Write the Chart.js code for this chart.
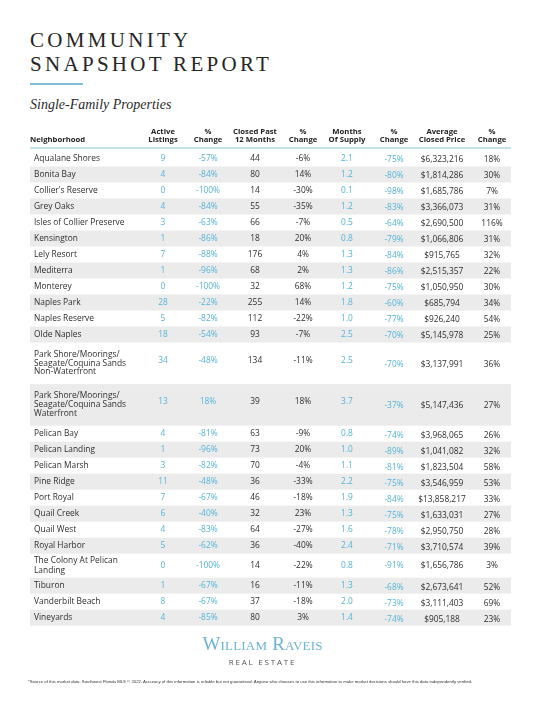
<!DOCTYPE html>
<html>
<head>
<meta charset="utf-8">
<script src="https://cdn.jsdelivr.net/npm/chart.js@4.4.1/dist/chart.umd.min.js"></script>
<style>
body{margin:0;background:#fff}
#page{position:relative;width:539px;height:702px;overflow:hidden;background:#fff}
#tabel{position:absolute;left:0;top:0}
.judul{position:absolute;left:30px;top:28px;font-family:"Liberation Serif",serif;font-size:21px;line-height:24px;letter-spacing:3.3px;color:#262626}
.garis{position:absolute;left:30px;top:83px;width:53px;height:1.5px;background:#7fbfd8}
.sub{position:absolute;left:30px;top:97px;font-family:"Liberation Serif",serif;font-style:italic;font-size:14px;line-height:16px;color:#2a2a2a}
.logo{position:absolute;left:0;width:525px;top:634px;text-align:center;font-family:"Liberation Serif",serif;font-variant:small-caps;font-size:19px;line-height:20px;letter-spacing:0.2px;color:#6db3d3}
.re{position:absolute;left:0;width:525px;top:657px;text-align:center;font-family:"Open Sans",sans-serif;font-size:8px;line-height:10px;letter-spacing:1.8px;color:#555}
.note{position:absolute;left:28px;top:679px;white-space:nowrap;font-family:"Liberation Sans",sans-serif;font-size:4.28px;line-height:6px;color:#333}
</style>
</head>
<body>
<div id="page">
<div class="judul">COMMUNITY<br>SNAPSHOT REPORT</div>
<div class="garis"></div>
<div class="sub">Single-Family Properties</div>
<canvas id="tabel" width="539" height="702"></canvas>
<div class="logo">William Raveis</div>
<div class="re">REAL ESTATE</div>
<div class="note">*Source of this market data: Southwest Florida MLS © 2022. Accuracy of this information is reliable but not guaranteed. Anyone who chooses to use this information to make market decisions should have this data independently verified.</div>
</div>

<script>
let nama=["Aqualane Shores","Bonita Bay","Collier's Reserve","Grey Oaks","Isles of Collier Preserve","Kensington","Lely Resort","Mediterra","Monterey","Naples Park","Naples Reserve","Olde Naples","Park Shore/Moorings/\nSeagate/Coquina Sands\nNon-Waterfront","Park Shore/Moorings/\nSeagate/Coquina Sands\nWaterfront","Pelican Bay","Pelican Landing","Pelican Marsh","Pine Ridge","Port Royal","Quail Creek","Quail West","Royal Harbor","The Colony At Pelican\nLanding","Tiburon","Vanderbilt Beach","Vineyards"]
let aktif=[9,4,0,4,3,1,7,1,0,28,5,18,34,13,4,1,3,11,7,6,4,5,0,1,8,4]
let aktifPersen=[-57,-84,-100,-84,-63,-86,-88,-96,-100,-22,-82,-54,-48,18,-81,-96,-82,-48,-67,-40,-83,-62,-100,-67,-67,-85]
let terjual=[44,80,14,55,66,18,176,68,32,255,112,93,134,39,63,73,70,36,46,32,64,36,14,16,37,80]
let terjualPersen=[-6,14,-30,-35,-7,20,4,2,68,14,-22,-7,-11,18,-9,20,-4,-33,-18,23,-27,-40,-22,-11,-18,3]
let bulanSupply=[2.1,1.2,0.1,1.2,0.5,0.8,1.3,1.3,1.2,1.8,1.0,2.5,2.5,3.7,0.8,1.0,1.1,2.2,1.9,1.3,1.6,2.4,0.8,1.3,2.0,1.4]
let supplyPersen=[-75,-80,-98,-83,-64,-79,-84,-86,-75,-60,-77,-70,-70,-37,-74,-89,-81,-75,-84,-75,-78,-71,-91,-68,-73,-74]
let hargaRata=[6323216,1814286,1685786,3366073,2690500,1066806,915765,2515357,1050950,685794,926240,5145978,3137991,5147436,3968065,1041082,1823504,3546959,13858217,1633031,2950750,3710574,1656786,2673641,3111403,905188]
let hargaPersen=[18,30,7,31,116,31,32,22,30,34,54,25,36,27,26,32,58,53,33,27,28,39,3,52,69,23]
let judulKolom=[["","Neighborhood"],["Active","Listings"],["%","Change"],["Closed Past","12 Months"],["%","Change"],["Months","Of Supply"],["%","Change"],["Average","Closed Price"],["%","Change"]]

// posisi kolom dalam satuan skala x (0 = tepi kiri tabel)
let posKolom=[4,133,178,225,273,317,364,412,462]
let kolomBiru=[false,true,true,false,false,true,true,false,false]

let biru="#55b4d8"
let gelap="#2e2e2e"

function tinggiBaris(n){
let baris=n.split("\n").length
if(baris==3) return 2.6
if(baris==2) return 1.5
return 1
}

let totalTinggi=nama.reduce((a,n)=>a+tinggiBaris(n),0)

function isiBaris(i){
return [
nama[i],
String(aktif[i]),
aktifPersen[i]+"%",
String(terjual[i]),
terjualPersen[i]+"%",
bulanSupply[i].toFixed(1),
supplyPersen[i]+"%",
"$"+hargaRata[i].toLocaleString("en-US"),
hargaPersen[i]+"%"
]
}

const tabelPlugin={
id:"tabelPlugin",
beforeDraw(chart){

let ctx=chart.ctx
let sx=chart.scales.x
let sy=chart.scales.y
let kiri=sx.getPixelForValue(sx.min)
let kanan=sx.getPixelForValue(sx.max)
let atas=sy.getPixelForValue(0)

ctx.save()

// judul kolom
ctx.fillStyle="#222"
ctx.font="bold 7.7px 'Open Sans'"
ctx.textBaseline="middle"
judulKolom.forEach((j,c)=>{
if(c==0){
ctx.textAlign="left"
ctx.fillText(j[1],sx.getPixelForValue(0),atas-10.5)
}else{
ctx.textAlign="center"
ctx.fillText(j[0],sx.getPixelForValue(posKolom[c]),atas-18.5)
ctx.fillText(j[1],sx.getPixelForValue(posKolom[c]),atas-10.5)
}
})

ctx.strokeStyle="#8cc6de"
ctx.lineWidth=1.2
ctx.beginPath()
ctx.moveTo(kiri,atas-2.5)
ctx.lineTo(kanan,atas-2.5)
ctx.stroke()

// baris data
let mulai=0
nama.forEach((n,i)=>{

let t=tinggiBaris(n)
let y0=sy.getPixelForValue(mulai)
let y1=sy.getPixelForValue(mulai+t)
let tengah=(y0+y1)/2
let jumlahBaris=n.split("\n").length

if(i%2==1){
ctx.fillStyle="#ebebeb"
ctx.fillRect(kiri,y0,kanan-kiri,y1-y0)
}

let isi=isiBaris(i)
ctx.font="8.4px 'Open Sans'"

isi.forEach((teks,c)=>{
let px=sx.getPixelForValue(posKolom[c])
if(c==0){
ctx.textAlign="left"
ctx.fillStyle=gelap
let baris=teks.split("\n")
let jarak=jumlahBaris==3?8.8:9.5
baris.forEach((b,k)=>{
ctx.fillText(b,px,tengah+(k-(baris.length-1)/2)*jarak)
})
}else{
let geser=0
if(jumlahBaris==3) geser=c<6?-3:1
if(jumlahBaris==1&&c>=6) geser=1.5
ctx.textAlign="center"
ctx.fillStyle=kolomBiru[c]?biru:gelap
ctx.fillText(teks,px,tengah+geser)
}
})

mulai+=t
})

ctx.restore()
}
}

let chartTabel=new Chart(document.getElementById("tabel"),{
type:"bar",
data:{labels:[],datasets:[]},
options:{
responsive:false,
animation:false,
events:[],
layout:{padding:{left:30,right:28,top:150.5,bottom:76.3}},
plugins:{legend:{display:false},tooltip:{enabled:false}},
scales:{
x:{type:"linear",min:0,max:481,offset:false,display:false},
y:{type:"linear",min:0,max:totalTinggi,reverse:true,offset:false,display:false}
}
},
plugins:[tabelPlugin]
})
</script>
</body>
</html>
